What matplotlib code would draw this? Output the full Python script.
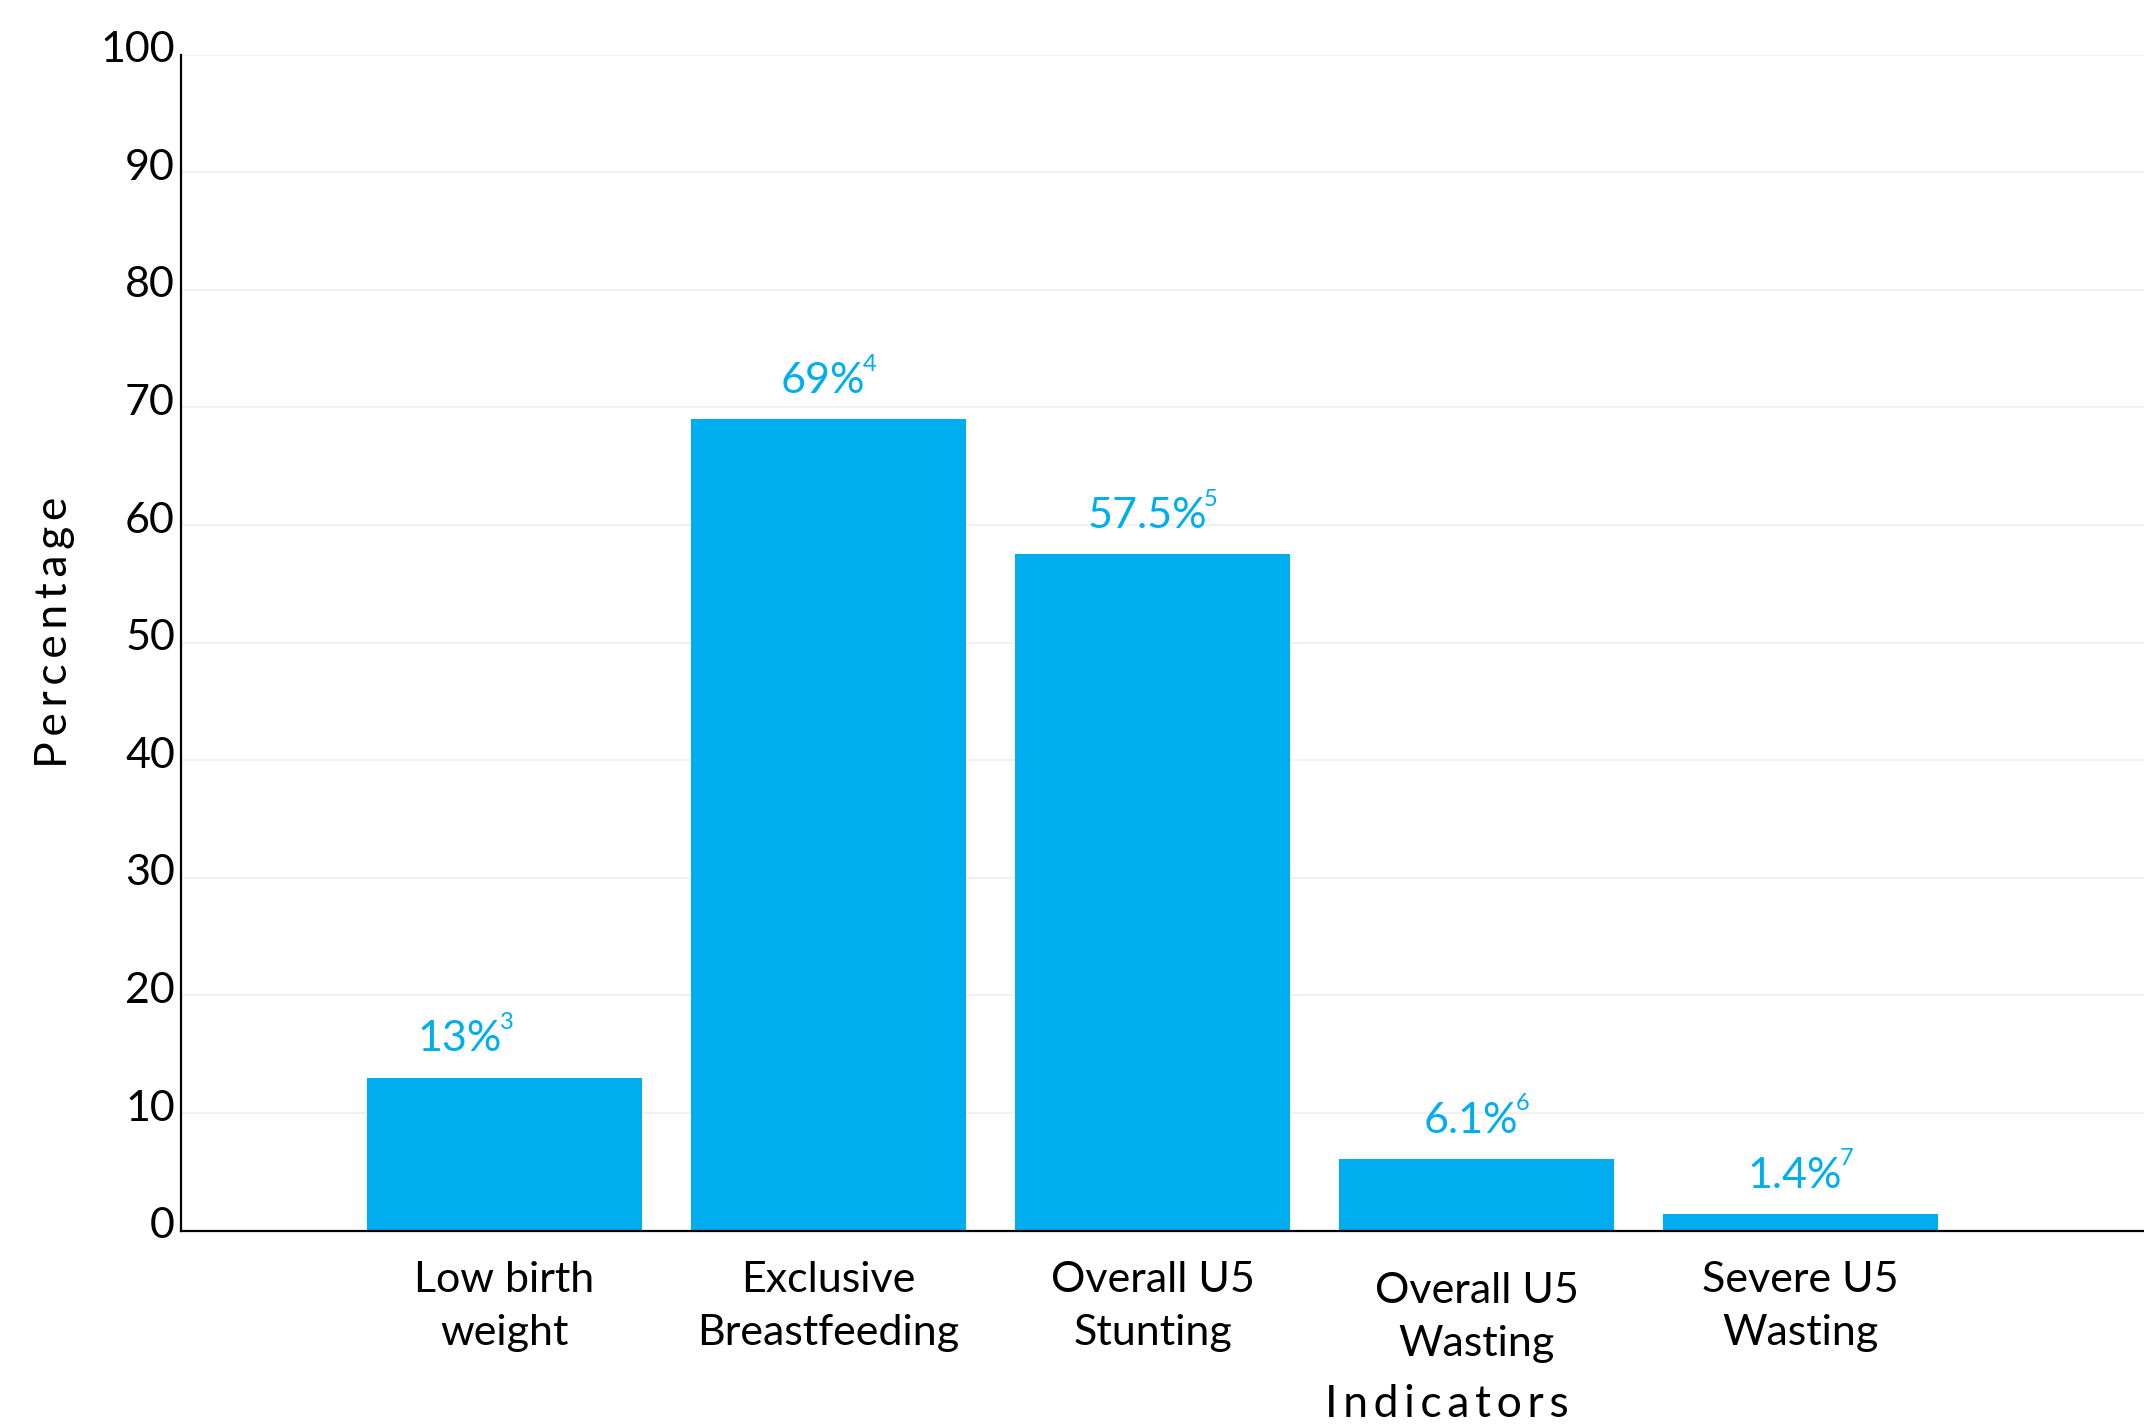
import matplotlib.pyplot as plt
from matplotlib.transforms import ScaledTranslation

plt.rcParams['font.family'] = ['Lato', 'DejaVu Sans']

categories = ["Low birth\nweight", "Exclusive\nBreastfeeding", "Overall U5\nStunting",
              "Overall U5\nWasting", "Severe U5\nWasting"]
values = [13, 69, 57.5, 6.1, 1.4]
value_labels = ["13%", "69%", "57.5%", "6.1%", "1.4%"]
footnotes = ["3", "4", "5", "6", "7"]
yticks = [0, 10, 20, 30, 40, 50, 60, 70, 80, 90, 100]

blue = "#00AEEF"

fig = plt.figure(figsize=(21.44, 14.25), dpi=100)
ax = fig.add_axes([0.0842, 0.1364, 0.9158, 0.8252])

x = list(range(len(values)))
ax.bar(x, values, width=0.85, color=blue, zorder=2)

# value labels with superscript footnote
label_dx = [-28, 0, 0, 0, 0]
for i, (v, lab, fn) in enumerate(zip(values, value_labels, footnotes)):
    t = ax.annotate(lab, xy=(i, v), xytext=(label_dx[i] - 4, 19), textcoords='offset points',
                    ha='center', va='baseline', fontsize=31, color=blue)
    ax.annotate(fn, xy=(1, 1), xycoords=t, xytext=(-2, 6), textcoords='offset points',
                ha='left', va='top', fontsize=17, color=blue)

ax.set_xlim(-1.0, 5.06)
ax.set_ylim(0, 100)
ax.set_yticks(yticks)
ax.set_xticks(x)
ax.set_xticklabels(categories, fontsize=31, linespacing=1.47)
ax.tick_params(axis='x', length=0, pad=22)
ax.tick_params(axis='y', length=0, pad=4, labelsize=31)

for lab in ax.get_yticklabels():
    lab.set_transform(lab.get_transform() + ScaledTranslation(0, 0.08, fig.dpi_scale_trans))
xl = ax.get_xticklabels()
xl[3].set_transform(xl[3].get_transform() + ScaledTranslation(0, -0.11, fig.dpi_scale_trans))

ax.grid(axis='y', color='#efefef', linewidth=1.2, zorder=0)
ax.set_axisbelow(True)

for s in ['top', 'right']:
    ax.spines[s].set_visible(False)
ax.spines['left'].set_linewidth(1.6)
ax.spines['bottom'].set_linewidth(1.6)

ax.set_ylabel("\u2009".join("Percentage"), fontsize=32, va='center')
ax.yaxis.set_label_coords(-0.064, 0.509)
ax.set_xlabel("\u2009".join("Indicators"), fontsize=32, va='center')
ax.xaxis.set_label_coords(0.645, -0.148)

fig.savefig("out.png", dpi=100)
